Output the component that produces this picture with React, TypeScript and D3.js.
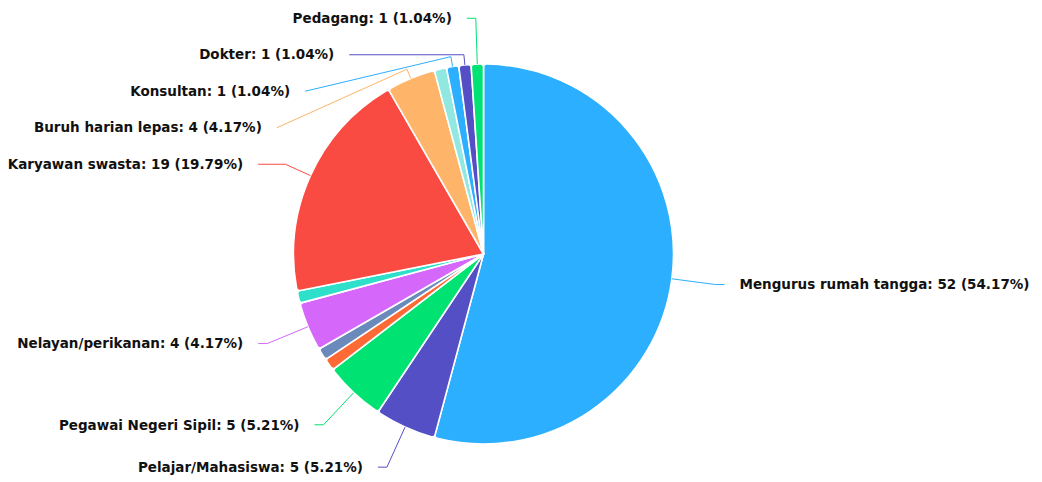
import React from 'react';
import * as d3 from 'd3';

const categories = [
  'Mengurus rumah tangga',
  'Pelajar/Mahasiswa',
  'Pegawai Negeri Sipil',
  'Wiraswasta',
  'Petani',
  'Nelayan/perikanan',
  'Guru',
  'Karyawan swasta',
  'Buruh harian lepas',
  'Tidak bekerja',
  'Konsultan',
  'Dokter',
  'Pedagang',
];
const values = [52, 5, 5, 1, 1, 4, 1, 19, 4, 1, 1, 1, 1];
const hiddenLabels = ['Wiraswasta', 'Petani', 'Guru', 'Tidak bekerja'];
const palette = ['#2caffe', '#544fc5', '#00e272', '#fe6a35', '#6b8abc', '#d568fb', '#2ee0ca', '#fa4b42', '#feb56a', '#91e8e1'];

const W = 1042;
const H = 482;
const cx = 483.5;
const cy = 254;
const R = 190;
const labelR = 234;
const len2 = 9;
const textGap = 15;
const labelH = 36.5;
const stub = 10;
const minY = labelH / 2;
const maxY = H - 14;

type Item = {
  i: number;
  name: string;
  value: number;
  color: string;
  dx: number;
  dy: number;
  side: number;
  y0: number;
  y: number;
  endX: number;
};

function resolve(items: Item[]) {
  items.sort((a, b) => a.y0 - b.y0);
  const clusters: { items: Item[]; pos: number }[] = [];
  const place = (c: { items: Item[]; pos: number }) => {
    const n = c.items.length;
    const m = d3.mean(c.items, (it, k) => it.y0 - k * labelH) as number;
    c.pos = Math.max(minY, Math.min(maxY - (n - 1) * labelH, m));
  };
  for (const it of items) {
    const c = { items: [it], pos: it.y0 };
    place(c);
    clusters.push(c);
    while (clusters.length > 1) {
      const last = clusters[clusters.length - 1];
      const prev = clusters[clusters.length - 2];
      if (prev.pos + prev.items.length * labelH > last.pos) {
        prev.items = prev.items.concat(last.items);
        clusters.pop();
        place(prev);
      } else break;
    }
  }
  clusters.forEach((c) => c.items.forEach((it, k) => (it.y = c.pos + k * labelH)));
}

function alignX(items: Item[]) {
  const semis = [items.filter((it) => it.y < cy), items.filter((it) => it.y >= cy)];
  semis.forEach((semi) => {
    if (!semi.length) return;
    let far = semi[0];
    semi.forEach((it) => {
      if (Math.abs(it.y - cy) > Math.abs(far.y - cy)) far = it;
    });
    const fdx = Math.abs(far.dx) * labelR;
    const fdy = Math.abs(far.y - cy);
    const rB = fdx < labelR ? Math.sqrt((fdy * fdy) / (1 - (fdx * fdx) / (labelR * labelR))) : labelR;
    semi.forEach((it) => {
      const ddy = Math.abs(it.y - cy);
      const ex = Math.sqrt(Math.max(0, 1 - (ddy * ddy) / (rB * rB))) * labelR;
      it.endX = cx + it.side * (ex + len2);
    });
  });
}

export default function App() {
  const data = categories.map((name, i) => ({ name, value: values[i], i }));
  const total = d3.sum(values);
  const pie = d3
    .pie<{ name: string; value: number; i: number }>()
    .sort(null)
    .value((d) => d.value)
    .startAngle(0)
    .endAngle(2 * Math.PI);
  const arcs = pie(data);
  const arcGen = d3
    .arc<d3.PieArcDatum<{ name: string; value: number; i: number }>>()
    .innerRadius(0)
    .outerRadius(R)
    .cornerRadius(3);

  const items: Item[] = arcs
    .filter((a) => !hiddenLabels.includes(a.data.name))
    .map((a) => {
      const mid = (a.startAngle + a.endAngle) / 2;
      const dx = Math.sin(mid);
      const dy = -Math.cos(mid);
      return {
        i: a.data.i,
        name: a.data.name,
        value: a.data.value,
        color: palette[a.data.i % palette.length],
        dx,
        dy,
        side: dx < 0 ? -1 : 1,
        y0: cy + dy * labelR,
        y: 0,
        endX: 0,
      };
    });
  const left = items.filter((it) => it.side < 0);
  const right = items.filter((it) => it.side > 0);
  resolve(left);
  resolve(right);
  alignX(left);
  alignX(right);

  const linePath = (it: Item) => {
    const ax = cx + it.dx * R;
    const ay = cy + it.dy * R;
    let ex: number;
    let ey: number;
    const t = Math.abs(it.dy) > 1e-6 ? (it.y - ay) / it.dy : -1;
    if (t >= 0 && it.side * (ax + it.dx * t) <= it.side * it.endX) {
      ex = ax + it.dx * t;
      ey = it.y;
    } else {
      ex = ax + it.dx * stub;
      ey = ay + it.dy * stub;
    }
    return d3.line()([
      [ax, ay],
      [ex, ey],
      [it.endX, it.y],
    ]) as string;
  };

  return (
    <svg
      width={W}
      height={H}
      style={{ position: 'absolute', left: 0, top: 0, display: 'block', background: '#fff' }}
    >
      <g transform={`translate(${cx},${cy})`}>
        {arcs.map((a) => (
          <path
            key={a.data.name}
            d={arcGen(a) as string}
            fill={palette[a.data.i % palette.length]}
            stroke="#ffffff"
            strokeWidth={1.6}
            strokeLinejoin="round"
          />
        ))}
      </g>
      {items.map((it) => (
        <path key={'l' + it.name} d={linePath(it)} fill="none" stroke={it.color} strokeWidth={1} />
      ))}
      {items.map((it) => (
        <text
          key={'t' + it.name}
          x={it.endX + it.side * textGap}
          y={it.y}
          dy="0.35em"
          textAnchor={it.side < 0 ? 'end' : 'start'}
          fontFamily="'DejaVu Sans', sans-serif"
          fontWeight="bold"
          fontSize={13.5}
          fill="#111111"
          stroke="#ffffff"
          strokeWidth={1}
          paintOrder="stroke"
        >
          {`${it.name}: ${it.value} (${((it.value / total) * 100).toFixed(2)}%)`}
        </text>
      ))}
    </svg>
  );
}
